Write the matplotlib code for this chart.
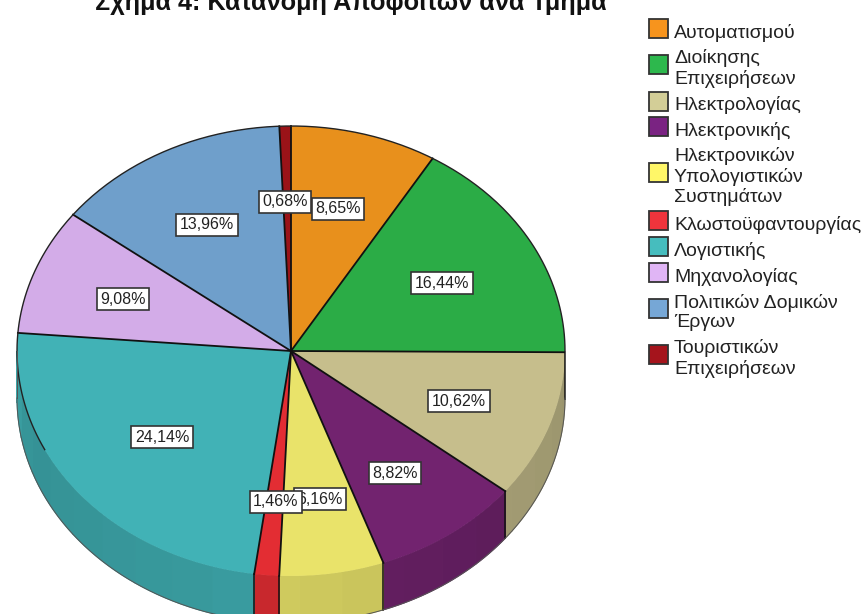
import numpy as np
import matplotlib
matplotlib.use("Agg")
import matplotlib.pyplot as plt
from matplotlib.patches import Rectangle

plt.rcParams['font.family'] = ['Liberation Sans', 'DejaVu Sans']

W, H = 866, 614

title = "Σχήμα 4: Κατανομή Αποφοίτων ανά Τμήμα"

departments = ["Αυτοματισμού", "Διοίκησης\nΕπιχειρήσεων", "Ηλεκτρολογίας", "Ηλεκτρονικής",
               "Ηλεκτρονικών\nΥπολογιστικών\nΣυστημάτων", "Κλωστοϋφαντουργίας", "Λογιστικής",
               "Μηχανολογίας", "Πολιτικών Δομικών\nΈργων", "Τουριστικών\nΕπιχειρήσεων"]
shares = [8.65, 16.44, 10.62, 8.82, 6.16, 1.46, 24.14, 9.08, 13.96, 0.68]

pie_colors = ["#E8901C", "#2BAC46", "#C6BE8C", "#72236F", "#E9E36A",
              "#E32D33", "#41B2B6", "#D3ACE8", "#6F9FCB", "#9A1318"]
legend_colors = ["#F7941D", "#2DB84D", "#D3CE97", "#7A2382", "#FFF768",
                 "#F0343C", "#46BDBE", "#E0B5F5", "#76A7D6", "#A5141C"]

# label centres in pixels, drawn in this order so 1,46% sits over 6,16%
label_px = [(338, 209), (442, 283), (459, 401), (395, 473), (320, 499),
            (276, 502), (162, 437), (123, 299), (207, 225), (285, 202)]
# swatch tops in pixels
swatch_top = [19, 55, 92, 117, 163, 211, 237, 263, 299, 345]

# pie geometry in pixels
cx, cy, rx, ry, depth_px = 291, 351, 274, 225, 47
depth = depth_px / ry

fig = plt.figure(figsize=(W / 100, H / 100), dpi=100, facecolor="white")
ax = fig.add_axes([0, 0, 1, 1])

ax.pie(shares, colors=pie_colors, startangle=90, counterclock=False, radius=1,
       wedgeprops={"linewidth": 0, "zorder": 3})
ax.set_aspect("auto")
ax.set_xlim(-cx / rx, (W - cx) / rx)
ax.set_ylim(-(H - cy) / ry, cy / ry)
ax.axis("off")

edges = np.concatenate([[0], np.cumsum(shares)]) / sum(shares) * 360


def shade(color, f):
    return tuple(c * f for c in matplotlib.colors.to_rgb(color))


# side wall, in narrow strips for the banded look
for i, color in enumerate(pie_colors):
    lo, hi = max(edges[i], 90), min(edges[i + 1], 270)
    if lo >= hi:
        continue
    steps = np.arange(lo, hi, 9.0)
    steps = np.append(steps, hi)
    for a0, a1 in zip(steps[:-1], steps[1:]):
        f = np.interp((a0 + a1) / 2, [90, 130, 180, 200, 250, 262, 270],
                      [0.78, 0.82, 0.89, 0.86, 0.82, 0.86, 0.93])
        t = np.radians(np.linspace(a0, a1, 8))
        xs = np.sin(t)
        ys = np.cos(t)
        ax.fill(np.r_[xs, xs[::-1]], np.r_[ys, ys[::-1] - depth],
                color=shade(color, f), lw=0.8, zorder=2)

# radial lines on top face and vertical lines on the wall
for a in edges[:-1]:
    t = np.radians(a)
    ax.plot([0, np.sin(t)], [0, np.cos(t)], color="#111111", lw=1.3, zorder=4)
    if 90 < a < 270:
        ax.plot([np.sin(t), np.sin(t)], [np.cos(t), np.cos(t) - depth], color="#111111", lw=1.1, zorder=4)

# outer rim, not drawn along the front
t = np.radians(np.linspace(244, 450, 300))
ax.plot(np.sin(t), np.cos(t), color="#222222", lw=1.0, zorder=4)
t = np.radians(np.linspace(90, 270, 300))
ax.plot(np.sin(t), np.cos(t) - depth, color="#555555", lw=0.7, zorder=4)
ax.plot([1, 1], [0, -depth], color="#555555", lw=0.7, zorder=4)
ax.plot([-1, -1], [0, -depth], color="#555555", lw=0.7, zorder=4)

# value labels
for k, ((x, y), s) in enumerate(zip(label_px, shares)):
    fig.text(x / W, 1 - y / H, f"{s:.2f}%".replace(".", ","), fontsize=11.5, color="#222222",
             ha="center", va="center", zorder=10 + k,
             bbox=dict(boxstyle="square,pad=0.22", fc="white", ec="#333333", lw=1.2))

# legend
for name, color, top in zip(departments, legend_colors, swatch_top):
    fig.add_artist(Rectangle((649 / W, 1 - (top + 19) / H), 19 / W, 19 / H, transform=fig.transFigure,
                             fc=color, ec="#333333", lw=1.3))
    fig.text(674 / W, 1 - (top + 13.5) / H, name, fontsize=14, color="#222222",
             ha="left", va="center", linespacing=1.18)

fig.text(351 / W, 1 - 10 / H, title, fontsize=18.2, fontweight="bold", color="#111111",
         ha="center", va="baseline")

fig.savefig("out.png", dpi=100)
